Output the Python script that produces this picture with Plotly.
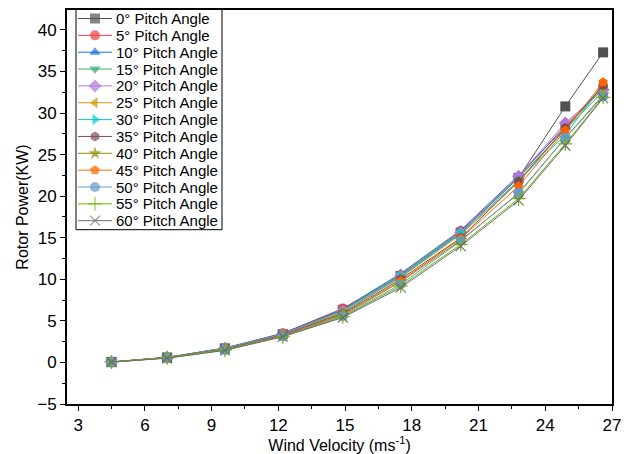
import plotly.graph_objects as go

wind_velocity = [4.5, 7.0, 9.6, 12.2, 14.9, 17.5, 20.2, 22.8, 24.9, 26.6]

pitch_labels = ["0° Pitch Angle", "5° Pitch Angle", "10° Pitch Angle", "15° Pitch Angle",
                "20° Pitch Angle", "25° Pitch Angle", "30° Pitch Angle", "35° Pitch Angle",
                "40° Pitch Angle", "45° Pitch Angle", "50° Pitch Angle", "55° Pitch Angle",
                "60° Pitch Angle"]

p0 = [0.05, 0.6, 1.7, 3.4, 6.3, 10.4, 15.6, 22.2, 30.8, 37.3]
p5 = [0.05, 0.6, 1.7, 3.5, 6.5, 10.5, 15.8, 22.3, 28.5, 33.2]
p10 = [0.05, 0.6, 1.75, 3.5, 6.4, 10.7, 15.9, 22.5, 28.3, 33.0]
p15 = [0.05, 0.6, 1.7, 3.4, 6.3, 10.6, 15.7, 22.2, 28.0, 32.6]
p20 = [0.05, 0.6, 1.7, 3.4, 6.2, 10.4, 15.6, 22.4, 28.8, 32.8]
p25 = [0.05, 0.6, 1.65, 3.3, 6.1, 10.2, 15.4, 21.7, 28.1, 33.0]
p30 = [0.05, 0.6, 1.65, 3.3, 6.0, 10.3, 15.5, 21.9, 27.4, 33.4]
p35 = [0.05, 0.6, 1.6, 3.3, 5.9, 10.0, 15.0, 21.8, 28.2, 33.3]
p40 = [0.05, 0.55, 1.55, 3.2, 5.7, 9.7, 14.7, 20.3, 27.0, 32.2]
p45 = [0.05, 0.55, 1.55, 3.2, 5.8, 9.8, 14.9, 21.2, 27.9, 33.7]
p50 = [0.05, 0.55, 1.5, 3.15, 5.6, 9.4, 14.6, 20.4, 27.0, 32.0]
p55 = [0.05, 0.55, 1.5, 3.1, 5.5, 9.2, 14.2, 19.7, 26.3, 31.9]
p60 = [0.05, 0.5, 1.45, 3.1, 5.4, 9.0, 14.0, 19.5, 26.1, 31.8]

series = [p0, p5, p10, p15, p20, p25, p30, p35, p40, p45, p50, p55, p60]

colors = ["#515151", "#F14040", "#1A6FDF", "#37AD6B", "#B177DE", "#CC9900", "#00CBCC",
          "#7D4E4E", "#8E8E00", "#FB6501", "#6699CC", "#6FB802", "#6E6E6E"]
symbols = ["square", "circle", "triangle-up", "triangle-down", "diamond", "triangle-left",
           "triangle-right", "hexagon", "star", "pentagon", "circle", "cross-thin", "x-thin"]

FONT = "Liberation Sans, Arial, sans-serif"
W, H = 627, 454
ML, MR, MT, MB = 67, 15, 10, 50

fig = go.Figure()
for name, vals, c, s in zip(pitch_labels, series, colors, symbols):
    thin = s.endswith("-thin")
    fig.add_trace(go.Scatter(
        x=wind_velocity, y=vals, name=name, mode="lines+markers",
        line=dict(color=c, width=1),
        marker=dict(symbol=s, size=10, color=c,
                    line=dict(color=c, width=1.2 if thin else 0)),
        showlegend=False,
    ))

# Custom legend drawn on an overlay axis measured in pixels of the plot area
px_left, px_right = ML, W - MR
px_top, px_bottom = MT, H - MB
leg_x0, leg_x1 = 76, 222
leg_y0 = 9
row_h = 16.85
row_first = 18.5
samp_x0, samp_x1, text_x = 78, 112, 114

for i, (name, c, s) in enumerate(zip(pitch_labels, colors, symbols)):
    thin = s.endswith("-thin")
    yy = row_first + i * row_h
    fig.add_trace(go.Scatter(
        x=[samp_x0, (samp_x0 + samp_x1) / 2, samp_x1], y=[yy, yy, yy],
        xaxis="x2", yaxis="y2", mode="lines+markers",
        line=dict(color=c, width=1),
        marker=dict(symbol=s, size=[0, 10, 0], color=c,
                    line=dict(color=c, width=1.2 if thin else 0)),
        showlegend=False, hoverinfo="skip",
    ))
    fig.add_annotation(x=text_x, y=yy, xref="x2", yref="y2", text=name,
                       showarrow=False, xanchor="left", yanchor="middle",
                       font=dict(size=15, family=FONT, color="black"))

leg_y1 = row_first + 12 * row_h + 9
fig.add_shape(type="rect", xref="x2", yref="y2", x0=leg_x0, x1=leg_x1, y0=leg_y0, y1=leg_y1,
              line=dict(color="black", width=1), fillcolor="white", layer="below")

axis_common = dict(
    showline=True, linecolor="black", linewidth=2, mirror=True,
    ticks="outside", ticklen=5, tickwidth=1.2, tickcolor="black",
    showgrid=False, zeroline=False, automargin=False,
    tickfont=dict(size=17, color="black", family=FONT),
)

fig.update_layout(
    width=W, height=H,
    margin=dict(l=ML, r=MR, t=MT, b=MB),
    paper_bgcolor="white", plot_bgcolor="white",
    font=dict(family=FONT, color="black"),
    showlegend=False,
    xaxis=dict(range=[2.5, 27], tick0=3, dtick=3,
               minor=dict(ticks="outside", ticklen=3, dtick=1.5, tick0=1.5, tickcolor="black"),
               title=dict(text="Wind Velocity (ms<sup>-1</sup>)", font=dict(size=16, family=FONT), standoff=2),
               **axis_common),
    yaxis=dict(range=[-5, 42.4], tick0=0, dtick=5,
               minor=dict(ticks="outside", ticklen=3, dtick=2.5, tick0=0, tickcolor="black"),
               title=dict(text="Rotor Power(KW)", font=dict(size=16, family=FONT), standoff=5),
               **axis_common),
    xaxis2=dict(range=[px_left, px_right], overlaying="x", anchor="y2", visible=False,
                fixedrange=True),
    yaxis2=dict(range=[px_bottom, px_top], overlaying="y", anchor="x2", visible=False,
                fixedrange=True),
)

fig.write_html("out.html", config={"displayModeBar": False},
               post_script="document.body.style.margin='0';document.body.style.overflow='hidden';")
